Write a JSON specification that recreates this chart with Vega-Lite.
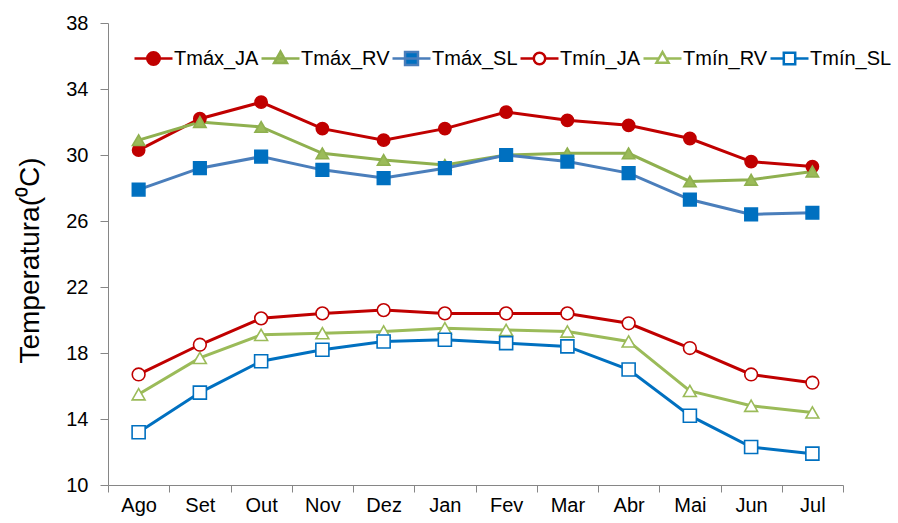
{
  "$schema": "https://vega.github.io/schema/vega-lite/v6.json",
  "autosize": {"type": "none"},
  "padding": {"left": 108, "top": 23, "right": 55, "bottom": 38},
  "width": 735,
  "height": 462,
  "background": "white",
  "config": {
    "font": "Liberation Sans",
    "view": {"stroke": null},
    "axis": {"grid": false, "domainColor": "#868686", "tickColor": "#868686", "labelColor": "#000000", "labelFont": "Liberation Sans", "labelFontSize": 20}
  },
  "data": {"values": [
    {"mes": "Ago", "serie": "Tmáx_JA", "t": 30.3}, {"mes": "Set", "serie": "Tmáx_JA", "t": 32.2}, {"mes": "Out", "serie": "Tmáx_JA", "t": 33.2}, {"mes": "Nov", "serie": "Tmáx_JA", "t": 31.6}, {"mes": "Dez", "serie": "Tmáx_JA", "t": 30.9}, {"mes": "Jan", "serie": "Tmáx_JA", "t": 31.6}, {"mes": "Fev", "serie": "Tmáx_JA", "t": 32.6}, {"mes": "Mar", "serie": "Tmáx_JA", "t": 32.1}, {"mes": "Abr", "serie": "Tmáx_JA", "t": 31.8}, {"mes": "Mai", "serie": "Tmáx_JA", "t": 31.0}, {"mes": "Jun", "serie": "Tmáx_JA", "t": 29.6}, {"mes": "Jul", "serie": "Tmáx_JA", "t": 29.3},
    {"mes": "Ago", "serie": "Tmáx_RV", "t": 30.9}, {"mes": "Set", "serie": "Tmáx_RV", "t": 32.0}, {"mes": "Out", "serie": "Tmáx_RV", "t": 31.7}, {"mes": "Nov", "serie": "Tmáx_RV", "t": 30.1}, {"mes": "Dez", "serie": "Tmáx_RV", "t": 29.7}, {"mes": "Jan", "serie": "Tmáx_RV", "t": 29.4}, {"mes": "Fev", "serie": "Tmáx_RV", "t": 30.0}, {"mes": "Mar", "serie": "Tmáx_RV", "t": 30.1}, {"mes": "Abr", "serie": "Tmáx_RV", "t": 30.1}, {"mes": "Mai", "serie": "Tmáx_RV", "t": 28.4}, {"mes": "Jun", "serie": "Tmáx_RV", "t": 28.5}, {"mes": "Jul", "serie": "Tmáx_RV", "t": 29.0},
    {"mes": "Ago", "serie": "Tmáx_SL", "t": 27.9}, {"mes": "Set", "serie": "Tmáx_SL", "t": 29.2}, {"mes": "Out", "serie": "Tmáx_SL", "t": 29.9}, {"mes": "Nov", "serie": "Tmáx_SL", "t": 29.1}, {"mes": "Dez", "serie": "Tmáx_SL", "t": 28.6}, {"mes": "Jan", "serie": "Tmáx_SL", "t": 29.2}, {"mes": "Fev", "serie": "Tmáx_SL", "t": 30.0}, {"mes": "Mar", "serie": "Tmáx_SL", "t": 29.6}, {"mes": "Abr", "serie": "Tmáx_SL", "t": 28.9}, {"mes": "Mai", "serie": "Tmáx_SL", "t": 27.3}, {"mes": "Jun", "serie": "Tmáx_SL", "t": 26.4}, {"mes": "Jul", "serie": "Tmáx_SL", "t": 26.5},
    {"mes": "Ago", "serie": "Tmín_JA", "t": 16.7}, {"mes": "Set", "serie": "Tmín_JA", "t": 18.5}, {"mes": "Out", "serie": "Tmín_JA", "t": 20.1}, {"mes": "Nov", "serie": "Tmín_JA", "t": 20.4}, {"mes": "Dez", "serie": "Tmín_JA", "t": 20.6}, {"mes": "Jan", "serie": "Tmín_JA", "t": 20.4}, {"mes": "Fev", "serie": "Tmín_JA", "t": 20.4}, {"mes": "Mar", "serie": "Tmín_JA", "t": 20.4}, {"mes": "Abr", "serie": "Tmín_JA", "t": 19.8}, {"mes": "Mai", "serie": "Tmín_JA", "t": 18.3}, {"mes": "Jun", "serie": "Tmín_JA", "t": 16.7}, {"mes": "Jul", "serie": "Tmín_JA", "t": 16.2},
    {"mes": "Ago", "serie": "Tmín_RV", "t": 15.5}, {"mes": "Set", "serie": "Tmín_RV", "t": 17.7}, {"mes": "Out", "serie": "Tmín_RV", "t": 19.1}, {"mes": "Nov", "serie": "Tmín_RV", "t": 19.2}, {"mes": "Dez", "serie": "Tmín_RV", "t": 19.3}, {"mes": "Jan", "serie": "Tmín_RV", "t": 19.5}, {"mes": "Fev", "serie": "Tmín_RV", "t": 19.4}, {"mes": "Mar", "serie": "Tmín_RV", "t": 19.3}, {"mes": "Abr", "serie": "Tmín_RV", "t": 18.7}, {"mes": "Mai", "serie": "Tmín_RV", "t": 15.7}, {"mes": "Jun", "serie": "Tmín_RV", "t": 14.8}, {"mes": "Jul", "serie": "Tmín_RV", "t": 14.4},
    {"mes": "Ago", "serie": "Tmín_SL", "t": 13.2}, {"mes": "Set", "serie": "Tmín_SL", "t": 15.6}, {"mes": "Out", "serie": "Tmín_SL", "t": 17.5}, {"mes": "Nov", "serie": "Tmín_SL", "t": 18.2}, {"mes": "Dez", "serie": "Tmín_SL", "t": 18.7}, {"mes": "Jan", "serie": "Tmín_SL", "t": 18.8}, {"mes": "Fev", "serie": "Tmín_SL", "t": 18.6}, {"mes": "Mar", "serie": "Tmín_SL", "t": 18.4}, {"mes": "Abr", "serie": "Tmín_SL", "t": 17.0}, {"mes": "Mai", "serie": "Tmín_SL", "t": 14.2}, {"mes": "Jun", "serie": "Tmín_SL", "t": 12.3}, {"mes": "Jul", "serie": "Tmín_SL", "t": 11.9}
  ]},
  "encoding": {
    "x": {
      "field": "mes", "type": "nominal",
      "sort": ["Ago", "Set", "Out", "Nov", "Dez", "Jan", "Fev", "Mar", "Abr", "Mai", "Jun", "Jul"],
      "scale": {"type": "band", "paddingInner": 0, "paddingOuter": 0},
      "axis": {"title": null, "labelAngle": 0, "tickBand": "extent", "tickSize": 7, "labelPadding": 3}
    },
    "y": {
      "field": "t", "type": "quantitative",
      "scale": {"domain": [10, 38], "nice": false, "zero": false},
      "axis": {
        "values": [10, 14, 18, 22, 26, 30, 34, 38],
        "title": "Temperatura(⁰C)",
        "titleFont": "Liberation Sans", "titleFontSize": 28, "titleFontWeight": "normal", "titleColor": "#000000",
        "titleX": -78, "titleY": 237, "titleAngle": -90, "titleAlign": "center", "titleBaseline": "middle",
        "tickSize": 8, "labelPadding": 12
      }
    }
  },
  "layer": [
    {
      "mark": {"type": "line", "strokeWidth": 3},
      "encoding": {
        "color": {
          "field": "serie", "type": "nominal",
          "scale": {
            "domain": ["Tmáx_JA", "Tmáx_RV", "Tmáx_SL", "Tmín_JA", "Tmín_RV", "Tmín_SL"],
            "range": ["#C00000", "#8FB04F", "#4A7EBB", "#C00000", "#9BBB59", "#0070C0"]
          },
          "legend": {
            "title": null,
            "orient": "none", "legendX": 25, "legendY": 15,
            "direction": "horizontal", "columns": 6, "gridAlign": "none",
            "symbolSize": 1444, "symbolStrokeWidth": 2.5,
            "labelFont": "Liberation Sans", "labelFontSize": 20, "labelColor": "#000000",
            "labelOffset": 0, "columnPadding": -3, "padding": 0,
            "encode": {
              "symbols": {
                "update": {
                  "shape": {"signal": "datum.value == 'Tmáx_JA' ? 'M-1,0L1,0M-0.33,0A0.33,0.33,0,1,0,0.33,0A0.33,0.33,0,1,0,-0.33,0Z' : datum.value == 'Tmáx_RV' ? 'M-1,0L1,0M0,-0.36L0.34,0.24L-0.34,0.24Z' : datum.value == 'Tmáx_SL' ? 'M-1,0L1,0M-0.34,-0.34L0.34,-0.34L0.34,0.34L-0.34,0.34Z' : datum.value == 'Tmín_JA' ? 'M-1,0L-0.3,0M0.3,0L1,0M-0.3,0A0.3,0.3,0,1,0,0.3,0A0.3,0.3,0,1,0,-0.3,0Z' : datum.value == 'Tmín_RV' ? 'M-1,0L-0.18,0M0.18,0L1,0M0,-0.34L0.32,0.22L-0.32,0.22Z' : 'M-1,0L-0.3,0M0.3,0L1,0M-0.3,-0.3L0.3,-0.3L0.3,0.3L-0.3,0.3Z'"},
                  "fill": {"signal": "datum.value == 'Tmáx_JA' ? '#C00000' : datum.value == 'Tmáx_RV' ? '#9BBB59' : datum.value == 'Tmáx_SL' ? '#0070C0' : '#FFFFFF'"},
                  "stroke": {"signal": "datum.value == 'Tmáx_JA' ? '#C00000' : datum.value == 'Tmáx_RV' ? '#8FB04F' : datum.value == 'Tmáx_SL' ? '#4A7EBB' : datum.value == 'Tmín_JA' ? '#C00000' : datum.value == 'Tmín_RV' ? '#9BBB59' : '#0070C0'"},
                  "strokeWidth": {"value": 2.5},
                  "opacity": {"value": 1}
                }
              }
            }
          }
        }
      }
    },
    {
      "transform": [{"calculate": "datum.serie", "as": "marcador"}],
      "mark": {"type": "point", "filled": false, "opacity": 1, "strokeWidth": 1.6},
      "encoding": {
        "shape": {
          "field": "marcador", "type": "nominal",
          "scale": {"range": ["circle", "triangle-up", "square", "circle", "triangle-up", "square"]},
          "legend": null
        },
        "size": {
          "field": "marcador", "type": "nominal",
          "scale": {"range": [150, 170, 200, 110, 130, 130]},
          "legend": null
        },
        "stroke": {
          "field": "marcador", "type": "nominal",
          "scale": {"range": ["#C00000", "#8FB04F", "#0070C0", "#C00000", "#9BBB59", "#0070C0"]},
          "legend": null
        },
        "fill": {
          "field": "marcador", "type": "nominal",
          "scale": {"range": ["#C00000", "#9BBB59", "#0070C0", "#FFFFFF", "#FFFFFF", "#FFFFFF"]},
          "legend": null
        }
      }
    }
  ]
}
